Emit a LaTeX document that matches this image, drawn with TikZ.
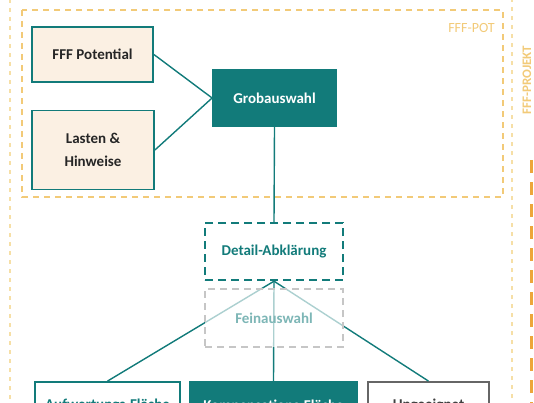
\documentclass[tikz,border=0pt]{standalone}
\usepackage{fontspec}
\setmainfont{Carlito}
\usetikzlibrary{positioning}

\definecolor{petrol}{HTML}{127B7A}
\definecolor{sand}{HTML}{FBF0E3}
\definecolor{gold}{HTML}{F2CA78}
\definecolor{paleGold}{HTML}{F6DFA6}
\definecolor{amber}{HTML}{EDA63A}

\tikzset{
  stepbox/.style={rectangle,draw=petrol,line width=1.8pt,inner sep=2pt,
    font=\fontsize{15}{23}\selectfont\bfseries,align=center},
  inbox/.style={stepbox,fill=sand,text=black!85},
  keybox/.style={stepbox,fill=petrol,text=white},
  openbox/.style={stepbox,fill=white,text=petrol},
  checkbox/.style={stepbox,fill=white,draw=petrol,dash pattern=on 8pt off 5pt,
    line width=2.4pt,text=petrol},
  fadebox/.style={stepbox,fill=white,fill opacity=0.65,text opacity=1,
    draw=gray!45,dash pattern=on 7pt off 5pt,line width=2pt,text=petrol!55},
  link/.style={draw=petrol,line width=1.4pt},
  frame/.style={draw=paleGold,line width=1.3pt,dash pattern=on 4pt off 5pt},
  potframe/.style={draw=gold,line width=1.6pt,dash pattern=on 6pt off 5pt},
}

\begin{document}
\begin{tikzpicture}[x=1pt,y=-1pt]
\useasboundingbox (0,0) rectangle (534,403);

% frames
\draw[frame] (10,-10) rectangle (512,420);
\draw[potframe] (22,10) rectangle (503,197);
\node[text=gold,font=\fontsize{14}{16}\selectfont,inner sep=0pt,anchor=east] (potlabel) at (495,28) {FFF-POT};
\node[text=gold,font=\fontsize{13}{15}\selectfont\bfseries,rotate=90,inner sep=0pt] (projlabel) at (527,80) {FFF-PROJEKT};
\draw[amber,line width=3pt,dash pattern=on 13pt off 9pt] (531,160)--(531,410);

% boxes
\node[inbox,minimum width=121pt,minimum height=55pt] (pot) at (92.5,54.5) {FFF Potential};
\node[inbox,minimum width=122pt,minimum height=79pt] (lasten) at (93,150) {Lasten \&\\Hinweise};
\node[keybox,minimum width=123pt,minimum height=56pt] (grob) at (274.5,98) {Grobauswahl};
\node[checkbox,minimum width=138pt,minimum height=57pt] (detail) at (274,251.5) {Detail-Abklärung};

\node[openbox,minimum width=145pt,minimum height=48pt] (aufw) at (107.5,406) {Aufwertungs-Fläche};
\node[keybox,minimum width=167pt,minimum height=48pt] (komp) at (273.5,406) {Kompensations-Fläche};
\node[openbox,draw=black!60,text=black!75,minimum width=121pt,minimum height=48pt] (unge) at (428.5,406) {Ungeeignet};

% connectors
\draw[link] (pot.east) -- (grob.west);
\draw[link] (lasten.east) -- (grob.west);
\draw[link] (grob.south) -- (detail.north);
\draw[link] (detail.south) -- (aufw.north);
\draw[link] (detail.south) -- (komp.north);
\draw[link] (detail.south) -- (unge.north);

% faded step on top of the links
\node[fadebox,minimum width=138pt,minimum height=58pt] (fein) at (274,318) {Feinauswahl};

\end{tikzpicture}
\end{document}
